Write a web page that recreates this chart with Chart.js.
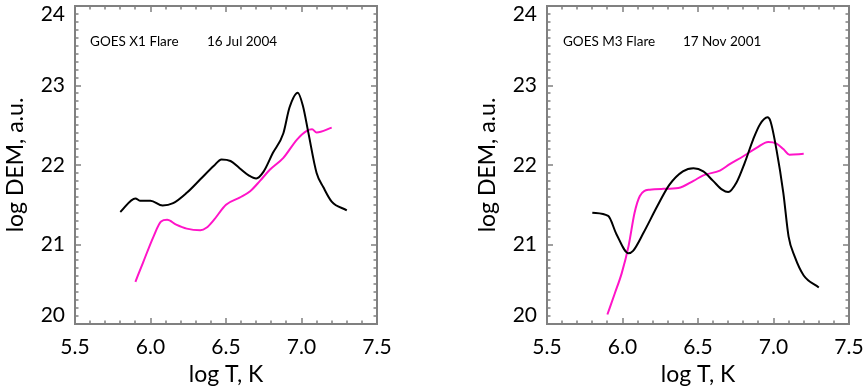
<!DOCTYPE html>
<html>
<head>
<meta charset="utf-8">
<script src="https://cdn.jsdelivr.net/npm/chart.js@4"></script>
<style>
  html, body { margin: 0; padding: 0; background: #fff; overflow: hidden; }
  #wrap { position: relative; width: 863px; height: 389px; }
  canvas { position: absolute; top: 0; }
</style>
</head>
<body>
<div id="wrap">
  <canvas id="dem_left" width="431" height="389" style="left:0"></canvas>
  <canvas id="dem_right" width="391" height="389" style="left:472px"></canvas>
</div>
<script>
// log T axis (x) and log DEM axis (y) tick values
const xTicks = [5.5, 6.0, 6.5, 7.0, 7.5];
const yTicks = [20, 21, 22, 23, 24];

// 16 Jul 2004, GOES X1
const jul04BlackT = [5.80, 5.90, 5.93, 6.00, 6.08, 6.15, 6.24, 6.33, 6.42, 6.47, 6.53, 6.59, 6.65, 6.70, 6.75, 6.81, 6.88, 6.92, 6.975, 7.01, 7.045, 7.10, 7.145, 7.20, 7.30];
const jul04BlackDem = [21.41, 21.58, 21.55, 21.55, 21.49, 21.52, 21.65, 21.82, 21.99, 22.07, 22.05, 21.96, 21.87, 21.83, 21.92, 22.15, 22.40, 22.72, 22.91, 22.74, 22.41, 21.90, 21.72, 21.54, 21.43];
const jul04PinkT = [5.90, 5.95, 6.02, 6.07, 6.11, 6.17, 6.24, 6.33, 6.37, 6.42, 6.50, 6.59, 6.66, 6.725, 6.79, 6.88, 6.97, 7.035, 7.07, 7.10, 7.20];
const jul04PinkDem = [20.53, 20.77, 21.10, 21.29, 21.31, 21.25, 21.20, 21.18, 21.21, 21.31, 21.50, 21.59, 21.67, 21.80, 21.94, 22.09, 22.32, 22.43, 22.45, 22.41, 22.47];

// 17 Nov 2001, GOES M3
const nov01BlackT = [5.80, 5.905, 5.96, 6.04, 6.07, 6.14, 6.23, 6.31, 6.40, 6.47, 6.535, 6.60, 6.66, 6.70, 6.755, 6.81, 6.865, 6.91, 6.96, 6.98, 7.02, 7.065, 7.10, 7.14, 7.20, 7.30];
const nov01BlackDem = [21.40, 21.36, 21.13, 20.89, 20.92, 21.15, 21.48, 21.75, 21.92, 21.96, 21.92, 21.80, 21.69, 21.66, 21.78, 22.03, 22.32, 22.51, 22.60, 22.55, 22.19, 21.65, 21.10, 20.85, 20.61, 20.46];
const nov01PinkT = [5.90, 5.95, 5.995, 6.04, 6.08, 6.115, 6.18, 6.27, 6.37, 6.47, 6.535, 6.645, 6.71, 6.80, 6.89, 6.965, 7.02, 7.065, 7.105, 7.20];
const nov01PinkDem = [20.12, 20.39, 20.64, 20.98, 21.40, 21.61, 21.69, 21.70, 21.71, 21.80, 21.87, 21.93, 22.01, 22.11, 22.22, 22.29, 22.27, 22.20, 22.13, 22.14];

// flare labels: text, x value, y value
const jul04Notes = [["GOES X1 Flare", 5.6, 23.55], ["16 Jul 2004", 6.374, 23.55]];
const nov01Notes = [["GOES M3 Flare", 5.606, 23.55], ["17 Nov 2001", 6.40, 23.55]];

const FONT = "Lato, 'Open Sans', sans-serif";
const AXIS_GREY = "#808080";

const pts = (xs, ys) => xs.map((x, i) => ({ x, y: ys[i] }));

// frame + inward ticks on all four sides, plus the flare text
const framePlugin = {
  id: "frame",
  afterDraw(chart) {
    const ctx = chart.ctx;
    const x = chart.scales.x, y = chart.scales.y;
    const L = Math.round(x.getPixelForValue(5.5)), R = Math.round(x.getPixelForValue(7.5));
    const T = Math.round(y.getPixelForValue(24)), B = Math.round(y.getPixelForValue(20));
    const notes = chart.config.options.notes || [];
    ctx.save();
    ctx.strokeStyle = AXIS_GREY;
    ctx.lineWidth = 2;
    ctx.beginPath();
    ctx.moveTo(L, T); ctx.lineTo(R, T); ctx.lineTo(R, B); ctx.lineTo(L, B); ctx.closePath();
    ctx.stroke();
    ctx.lineWidth = 1.5;
    ctx.beginPath();
    for (let i = 1; i < 20; i++) {
      const px = Math.round(x.getPixelForValue(5.5 + i * 0.1));
      const len = i % 5 === 0 ? 6 : 3.5;
      ctx.moveTo(px, B); ctx.lineTo(px, B - len);
      ctx.moveTo(px, T); ctx.lineTo(px, T + len);
    }
    for (let i = 1; i < 40; i++) {
      const py = Math.round(y.getPixelForValue(20 + i * 0.1));
      const len = i % 10 === 0 ? 6 : 3.5;
      ctx.moveTo(L, py); ctx.lineTo(L + len, py);
      ctx.moveTo(R, py); ctx.lineTo(R - len, py);
    }
    ctx.stroke();

    ctx.fillStyle = "#000";
    ctx.font = "13.5px " + FONT;
    ctx.textBaseline = "middle";
    notes.forEach(([txt, vx, vy]) => {
      ctx.fillText(txt, x.getPixelForValue(vx), y.getPixelForValue(vy));
    });
    ctx.restore();
  },
};

function makeChart(id, padRight, blackT, blackDem, pinkT, pinkDem, notes) {
  const ctx = document.getElementById(id).getContext("2d");
  return new Chart(ctx, {
    type: "line",
    data: {
      datasets: [
        {
          data: pts(blackT, blackDem),
          borderColor: "#000",
          borderWidth: 2,
          pointRadius: 0,
          cubicInterpolationMode: "monotone",
        },
        {
          data: pts(pinkT, pinkDem),
          borderColor: "#ff14c8",
          borderWidth: 2,
          pointRadius: 0,
          cubicInterpolationMode: "monotone",
        },
      ],
    },
    options: {
      responsive: false,
      animation: false,
      notes,
      layout: { padding: { left: 0, right: padRight, top: 6, bottom: 0 } },
      plugins: {
        legend: { display: false },
        tooltip: { enabled: false },
      },
      scales: {
        x: {
          type: "linear",
          min: 5.5,
          max: 7.5,
          afterFit: (s) => { s.height = 65; s.paddingLeft = 0; s.paddingRight = 0; },
          afterBuildTicks: (s) => { s.ticks = xTicks.map((v) => ({ value: v })); },
          grid: { display: false, drawTicks: false },
          border: { display: false },
          ticks: {
            color: "#000",
            padding: 11,
            font: { family: FONT, size: 21 },
            callback: (v) => Number(v).toFixed(1),
          },
          title: {
            display: true,
            text: "log T, K",
            color: "#000",
            font: { family: FONT, size: 23 },
            padding: { top: 0, bottom: 1 },
          },
        },
        y: {
          min: 20,
          max: 24,
          afterFit: (s) => { s.width = 75; s.paddingTop = 0; s.paddingBottom = 0; },
          afterBuildTicks: (s) => { s.ticks = yTicks.map((v) => ({ value: v })); },
          grid: { display: false, drawTicks: false },
          border: { display: false },
          ticks: {
            color: "#000",
            padding: 10,
            font: { family: FONT, size: 21, lineHeight: 0.8 },
            // end labels sit inside the frame, as in the original plot
            callback: (v) => (v === 24 ? ["", "24"] : v === 20 ? ["20", ""] : String(v)),
          },
          title: {
            display: true,
            text: "log DEM, a.u.",
            color: "#000",
            font: { family: FONT, size: 23 },
            padding: { top: 2, bottom: 0 },
          },
        },
      },
    },
    plugins: [framePlugin],
  });
}

makeChart("dem_left", 54, jul04BlackT, jul04BlackDem, jul04PinkT, jul04PinkDem, jul04Notes);
makeChart("dem_right", 14, nov01BlackT, nov01BlackDem, nov01PinkT, nov01PinkDem, nov01Notes);
</script>
</body>
</html>
